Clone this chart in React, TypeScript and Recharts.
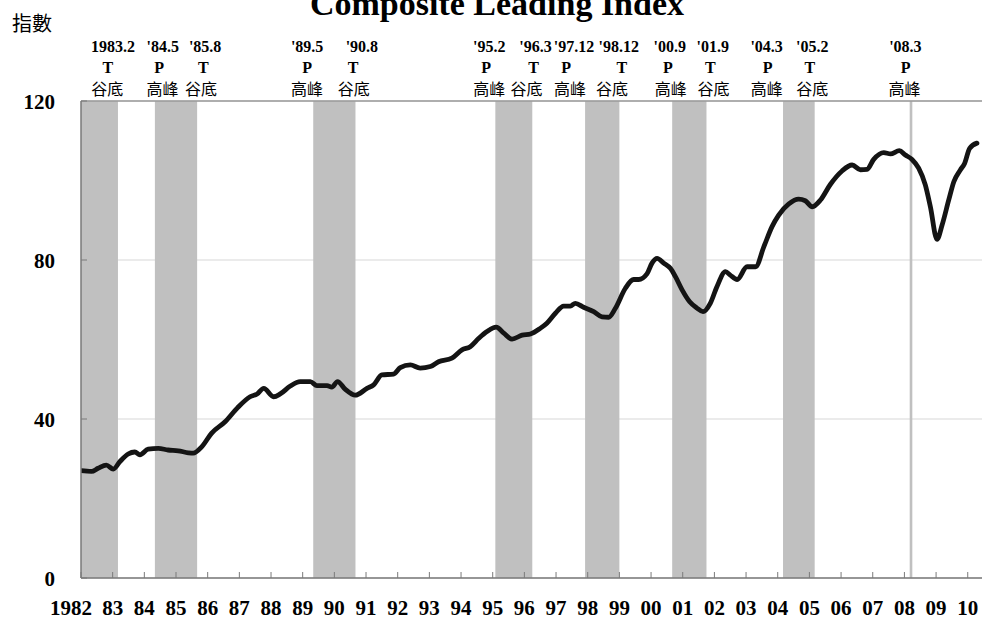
import React from 'react';
import {
  LineChart,
  Line,
  XAxis,
  YAxis,
  CartesianGrid,
  ReferenceArea,
  ReferenceLine,
  ReferenceDot,
  Customized,
} from 'recharts';

// ---- Data -------------------------------------------------------------
const years = [
  1982.0, 1982.33, 1982.54, 1982.8, 1983.02, 1983.23, 1983.49, 1983.7, 1983.86,
  1984.12, 1984.44, 1984.75, 1985.07, 1985.39, 1985.54, 1985.81, 1986.12, 1986.55,
  1986.94, 1987.34, 1987.56, 1987.77, 1988.08, 1988.29, 1988.61, 1988.92, 1989.24,
  1989.45, 1989.77, 1989.92, 1990.1, 1990.34, 1990.66, 1991.03, 1991.24, 1991.5,
  1991.87, 1992.08, 1992.4, 1992.71, 1993.03, 1993.29, 1993.71, 1994.03, 1994.29,
  1994.56, 1994.82, 1995.11, 1995.35, 1995.61, 1995.93, 1996.19, 1996.5, 1996.71,
  1996.98, 1997.24, 1997.45, 1997.61, 1997.87, 1998.19, 1998.45, 1998.66, 1998.87,
  1999.19, 1999.45, 1999.61, 1999.87, 2000.03, 2000.19, 2000.4, 2000.61, 2000.77,
  2000.98, 2001.22, 2001.45, 2001.64, 2001.87, 2002.08, 2002.35, 2002.5, 2002.72,
  2003.03, 2003.3, 2003.56, 2003.82, 2004.03, 2004.35, 2004.66, 2004.87, 2005.09,
  2005.35, 2005.66, 2006.03, 2006.35, 2006.61, 2006.82, 2007.03, 2007.35, 2007.56,
  2007.84, 2008.03, 2008.24, 2008.45, 2008.66, 2008.82, 2009.03, 2009.19, 2009.4,
  2009.56, 2009.77, 2009.9, 2010.06, 2010.29,
];

const indexValues = [
  27.0, 26.8, 27.6, 28.4, 27.4, 29.3, 31.2, 31.7, 31.0,
  32.4, 32.6, 32.2, 32.0, 31.5, 31.4, 33.0, 36.4, 39.3,
  42.8, 45.6, 46.3, 47.7, 45.6, 46.3, 48.3, 49.4, 49.4,
  48.4, 48.4, 48.0, 49.4, 47.5, 46.0, 47.7, 48.6, 51.1,
  51.3, 52.9, 53.6, 52.8, 53.2, 54.4, 55.3, 57.4, 58.2,
  60.3, 62.0, 63.1, 61.6, 60.1, 61.1, 61.4, 62.8, 64.1,
  66.6, 68.4, 68.4, 69.1, 68.1, 67.0, 65.7, 65.6, 67.8,
  72.9, 75.1, 75.1, 76.5, 79.2, 80.4, 79.2, 77.9, 75.8,
  72.5, 69.5, 67.9, 67.0, 69.1, 73.3, 77.1, 76.2, 75.1,
  78.3, 78.3, 83.3, 88.4, 91.3, 94.1, 95.3, 94.9, 93.4,
  95.1, 99.0, 102.4, 103.9, 102.7, 102.8, 105.3, 107.0, 106.7,
  107.5, 106.4, 105.3, 103.1, 98.9, 93.4, 85.2, 88.8, 95.1,
  99.7, 102.7, 104.3, 108.1, 109.4,
];

const tickYears = [
  1982, 1983, 1984, 1985, 1986, 1987, 1988, 1989, 1990, 1991, 1992, 1993, 1994, 1995,
  1996, 1997, 1998, 1999, 2000, 2001, 2002, 2003, 2004, 2005, 2006, 2007, 2008, 2009, 2010,
];
const tickLabels = [
  '1982', '83', '84', '85', '86', '87', '88', '89', '90', '91', '92', '93', '94', '95',
  '96', '97', '98', '99', '00', '01', '02', '03', '04', '05', '06', '07', '08', '09', '10',
];
const yTicks = [0, 40, 80, 120];

// shaded peak-to-trough periods
const bandStart = [1982.0, 1984.333, 1989.333, 1995.083, 1997.917, 2000.667, 2004.167, 2008.167];
const bandEnd = [1983.167, 1985.667, 1990.667, 1996.25, 1999.0, 2001.75, 2005.167, 2008.25];

// turning-point annotations
const turnDates = ["1983.2", "'84.5", "'85.8", "'89.5", "'90.8", "'95.2", "'96.3", "'97.12", "'98.12", "'00.9", "'01.9", "'04.3", "'05.2", "'08.3"];
const turnTypes = ['T', 'P', 'T', 'P', 'T', 'P', 'T', 'P', 'T', 'P', 'T', 'P', 'T', 'P'];
const turnNames = ['谷底', '高峰', '谷底', '高峰', '谷底', '高峰', '谷底', '高峰', '谷底', '高峰', '谷底', '高峰', '谷底', '高峰'];
const dateAt = [1983.01, 1984.58, 1985.92, 1989.14, 1990.87, 1994.89, 1996.35, 1997.57, 1998.98, 2000.59, 2001.95, 2003.65, 2005.09, 2008.03];
const typeAt = [1982.85, 1984.47, 1985.86, 1989.14, 1990.59, 1994.79, 1996.29, 1997.32, 1999.08, 2000.53, 2001.87, 2003.68, 2005.01, 2008.04];
const nameAt = [1982.83, 1984.57, 1985.79, 1989.14, 1990.61, 1994.89, 1996.07, 1997.44, 1998.77, 2000.62, 2001.97, 2003.65, 2005.09, 2008.0];

const data = years.map((y, i) => ({ year: y, value: indexValues[i] }));

// ---- Styles -------------------------------------------------------------
const SERIF = "'Liberation Serif', 'Times New Roman', serif";
const CJK = "'Noto Sans CJK TC', 'Noto Sans CJK SC', sans-serif";
const AXIS = '#7a7a7a';

const XTick = (props: any) => {
  const { x, y, payload, index } = props;
  const label = tickLabels[tickYears.indexOf(payload.value)] ?? String(payload.value);
  const shift = index === 0 ? -10 : 0;
  return (
    <g>
      <line x1={x} x2={x} y1={y} y2={y - 6} stroke={AXIS} strokeWidth={1} />
      <text x={x + shift} y={y + 37} textAnchor="middle" fontFamily={SERIF} fontWeight={700} fontSize={21} fill="#000">
        {label}
      </text>
    </g>
  );
};

const YTick = (props: any) => {
  const { x, y, payload } = props;
  return (
    <g>
      <line x1={x + 26} x2={x + 32} y1={y} y2={y} stroke={AXIS} strokeWidth={1} />
      <text x={x} y={y + 8} textAnchor="end" fontFamily={SERIF} fontWeight={700} fontSize={21} fill="#000">
        {payload.value}
      </text>
    </g>
  );
};

const Titles = () => (
  <g>
    <text x={497} y={15} textAnchor="middle" fontFamily={SERIF} fontWeight={700} fontSize={34} fill="#000">
      Composite Leading Index
    </text>
    <text x={12} y={31} fontFamily={CJK} fontSize={20} fill="#000">
      指數
    </text>
  </g>
);

const textShape = (label: string, dy: number, font: string, bold: boolean) => (p: any) => (
  <text
    x={p.cx}
    y={p.cy + dy}
    textAnchor="middle"
    fontFamily={font}
    fontWeight={bold ? 700 : 400}
    fontSize={16}
    fill="#000"
  >
    {label}
  </text>
);

export default function App() {
  return (
    <div style={{ position: 'absolute', left: 0, top: 0, width: 982, height: 620, background: '#fff' }}>
      <LineChart
        width={982}
        height={620}
        data={data}
        margin={{ top: 101, right: 0, bottom: 0, left: 0 }}
      >
        <CartesianGrid vertical={false} stroke="#e4e4e4" strokeWidth={1.5} />
        {bandStart.map((s, i) => (
          <ReferenceArea
            key={`band-${i}`}
            x1={s}
            x2={bandEnd[i]}
            y1={0}
            y2={120}
            fill="#c0c0c0"
            fillOpacity={1}
            stroke="none"
            ifOverflow="visible"
          />
        ))}
        <ReferenceLine y={120} stroke="#9a9a9a" strokeWidth={1.5} ifOverflow="visible" />
        <XAxis
          type="number"
          dataKey="year"
          domain={[1982, 2010.45]}
          ticks={tickYears}
          interval={0}
          allowDataOverflow
          height={42}
          tickSize={0}
          tickMargin={0}
          tickLine={false}
          axisLine={{ stroke: AXIS, strokeWidth: 1.5 }}
          tick={<XTick />}
        />
        <YAxis
          type="number"
          domain={[0, 120]}
          ticks={yTicks}
          interval={0}
          width={81}
          tickSize={0}
          tickMargin={26}
          tickLine={false}
          axisLine={{ stroke: AXIS, strokeWidth: 1.5 }}
          tick={<YTick />}
        />
        {turnDates.map((d, i) => (
          <ReferenceDot key={`d-${i}`} x={dateAt[i]} y={120} r={0} ifOverflow="visible" shape={textShape(d, -49, SERIF, true)} />
        ))}
        {turnTypes.map((t, i) => (
          <ReferenceDot key={`t-${i}`} x={typeAt[i]} y={120} r={0} ifOverflow="visible" shape={textShape(t, -28, SERIF, true)} />
        ))}
        {turnNames.map((n, i) => (
          <ReferenceDot key={`n-${i}`} x={nameAt[i]} y={120} r={0} ifOverflow="visible" shape={textShape(n, -6, CJK, false)} />
        ))}
        <Line
          type="monotone"
          dataKey="value"
          stroke="#141414"
          strokeWidth={4.8}
          dot={false}
          isAnimationActive={false}
          strokeLinejoin="round"
          strokeLinecap="round"
        />
        <Customized component={Titles} />
      </LineChart>
    </div>
  );
}
